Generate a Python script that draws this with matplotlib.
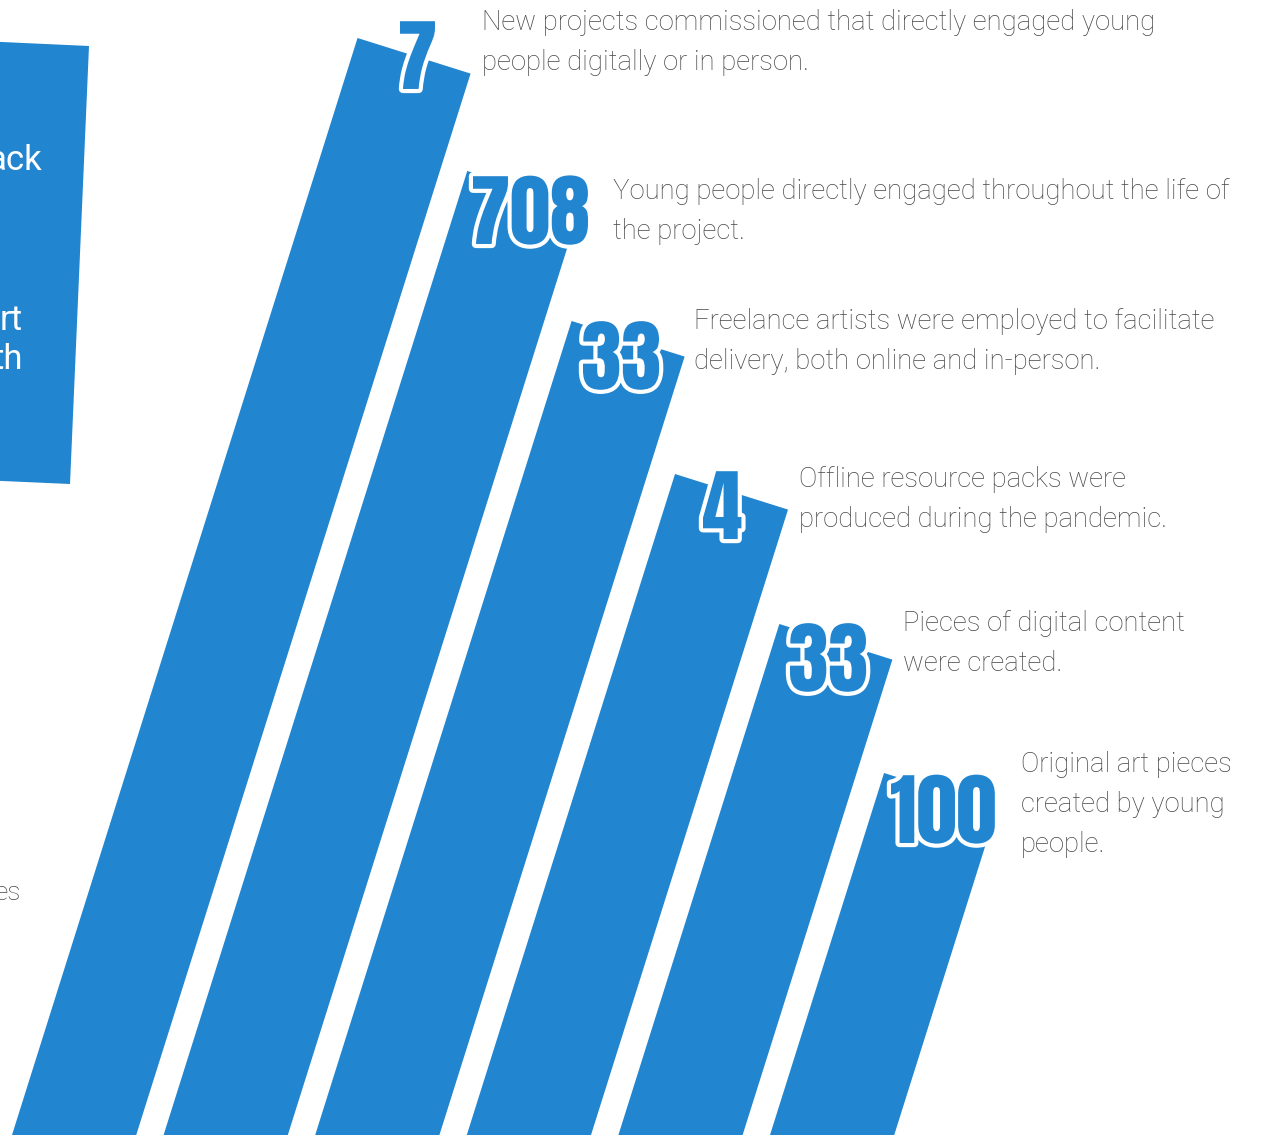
import matplotlib
matplotlib.use("Agg")
from matplotlib import pyplot as plt
from matplotlib import patheffects
from matplotlib import font_manager as fm
from matplotlib.colors import to_rgba
from matplotlib.patches import Polygon
from matplotlib.textpath import TextPath
from matplotlib.transforms import Affine2D

# 数据
stat_values = ["7", "708", "33", "4", "33", "100"]
stat_texts = [
    "New projects commissioned that directly engaged young\npeople digitally or in person.",
    "Young people directly engaged throughout the life of\nthe project.",
    "Freelance artists were employed to facilitate\ndelivery, both online and in-person.",
    "Offline resource packs were\nproduced during the pandemic.",
    "Pieces of digital content\nwere created.",
    "Original art pieces\ncreated by young\npeople.",
]
box_fragments = ["ack", "rt\nth"]
side_fragment = "es"

# 版面 (像素坐标)
W, H = 1262, 1135
BLUE = "#2185d0"
GREY = "#474747"
bar_top = [38, 171, 321, 474, 624, 773]      # 每根斜条左上角的 y
bar_x0, bar_step, bar_w = 12, 151.6, 113      # 底部起点、间距、宽度
slope = 0.315                                 # 斜率 dx/dy
num_left = [400, 473, 583, 703, 790, 891]     # 数字字形左边
num_base = [89, 244, 389, 539, 691, 843]      # 数字基线
digit_h = 69                                  # 数字高度(px)
w_708 = 115                                   # "708" 的宽度(px)
text_left = [482, 613, 694, 799, 903, 1021]
text_top = [9, 178, 308, 466, 610, 751]


def pick_font(cands):
    for name in cands:
        try:
            fm.findfont(fm.FontProperties(family=name), fallback_to_default=False)
            return name
        except Exception:
            pass
    return "DejaVu Sans"


num_family = pick_font(["Anton", "Oswald", "Bebas Neue", "Roboto Condensed", "Roboto"])
num_weight = "normal" if num_family in ("Anton", "Bebas Neue") else "bold"
num_prop = fm.FontProperties(family=num_family, weight=num_weight)

# 按字形大小推算字号和横向压缩比例
ext0 = TextPath((0, 0), "0", size=100, prop=num_prop).get_extents()
px_size = 100 * digit_h / ext0.height
num_size = px_size * 72 / 100
ext708 = TextPath((0, 0), "708", size=px_size, prop=num_prop).get_extents()
sx = w_708 / ext708.width


class Squeeze(patheffects.AbstractPathEffect):
    """横向压缩文字，可选描边"""

    def __init__(self, sx=1.0, stroke=None, lw=0):
        super().__init__()
        self.sx = sx
        self.stroke = stroke
        self.lw = lw

    def draw_path(self, renderer, gc, tpath, affine, rgbFace=None):
        aff = Affine2D().scale(self.sx, 1) + affine
        gc0 = renderer.new_gc()
        gc0.copy_properties(gc)
        if self.stroke is not None:
            gc0.set_foreground(self.stroke)
            gc0.set_linewidth(self.lw)
            gc0.set_joinstyle("round")
            renderer.draw_path(gc0, tpath, aff, to_rgba(self.stroke))
        else:
            renderer.draw_path(gc0, tpath, aff, rgbFace)
        gc0.restore()


fig = plt.figure(figsize=(W / 100, H / 100), dpi=100)
ax = fig.add_axes([0, 0, 1, 1])
ax.set_xlim(0, W)
ax.set_ylim(H, 0)
ax.axis("off")

# 左边的蓝色框
ax.add_patch(Polygon([(-20, 41), (89, 46), (70, 484), (-20, 480)],
                     closed=True, color=BLUE, lw=0))
ax.text(42, 160, box_fragments[0], color="white", fontsize=25,
        family="Roboto", ha="right", va="center")
ax.text(23, 340, box_fragments[1], color="white", fontsize=25,
        family="Roboto", ha="right", va="center", linespacing=1.24)
ax.text(21, 893, side_fragment, color=GREY, fontsize=19,
        family="Roboto", weight="light", ha="right", va="center")

for i in range(len(stat_values)):
    bl = bar_x0 + bar_step * i
    y0 = bar_top[i]
    x_tl = bl + slope * (H - y0)
    x_tr = x_tl + bar_w
    y_tr = y0 + bar_w * slope
    y_end = H + 100
    pts = [(x_tl, y0), (x_tr, y_tr),
           (x_tr - slope * (y_end - y_tr), y_end),
           (x_tl - slope * (y_end - y0), y_end)]
    ax.add_patch(Polygon(pts, closed=True, color=BLUE, lw=0, zorder=1))

    lsb = TextPath((0, 0), stat_values[i], size=px_size, prop=num_prop).get_extents().x0
    t = ax.text(num_left[i] - lsb * sx, num_base[i], stat_values[i], color=BLUE,
                fontproperties=num_prop, fontsize=num_size,
                ha="left", va="baseline", zorder=3)
    t.set_path_effects([Squeeze(sx, "white", 6), Squeeze(sx)])

    ax.text(text_left[i], text_top[i], stat_texts[i], color=GREY,
            fontsize=19.8, family="Roboto", weight="light",
            ha="left", va="top", linespacing=1.62, zorder=3)

fig.savefig("out.png", dpi=100)
